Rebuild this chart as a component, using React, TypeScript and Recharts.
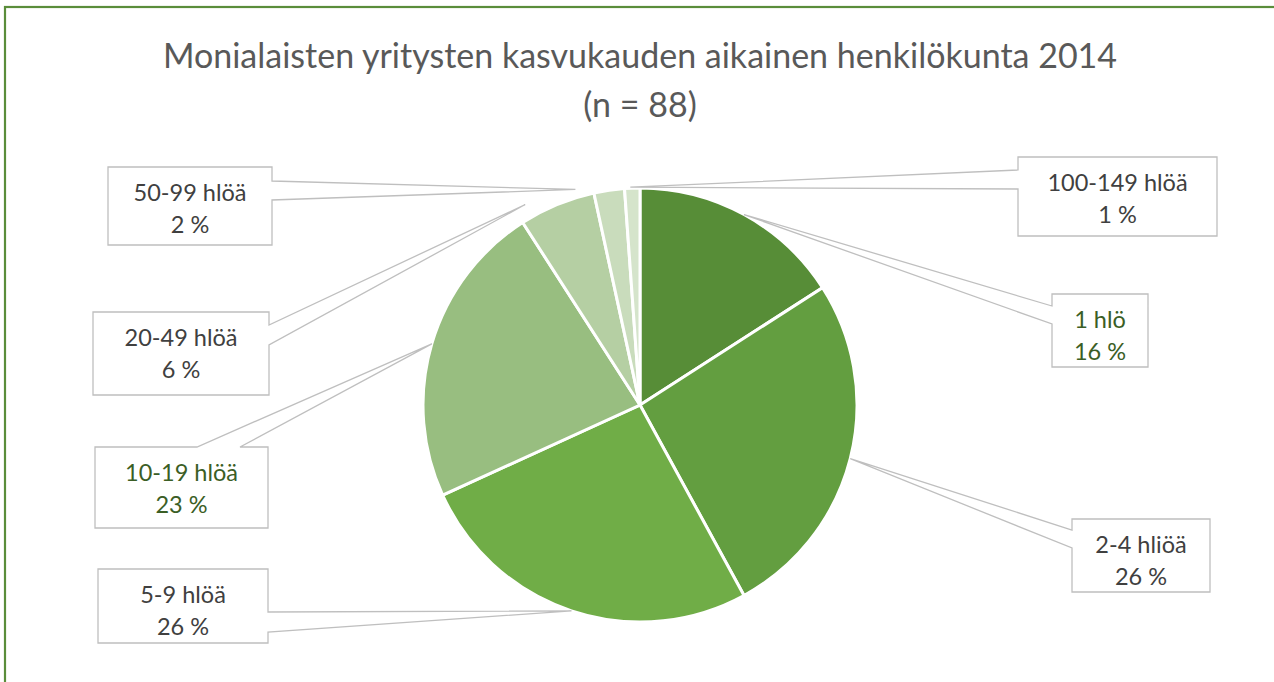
import React from "react";
import { PieChart, Pie, Cell } from "recharts";

// company staff size groups (n = 88)
const categories = ["1 hlö", "2-4 hliöä", "5-9 hlöä", "10-19 hlöä", "20-49 hlöä", "50-99 hlöä", "100-149 hlöä"];
const counts = [14, 23, 23, 20, 5, 2, 1];

const sliceColors = ["#578D37", "#639E40", "#70AD47", "#98BE80", "#B5CFA3", "#C9DCBC", "#D5E4CB"];
const labelColors = ["#3B5E25", "#404040", "#404040", "#3B5E25", "#404040", "#404040", "#404040"];

// callout boxes: position, side the pointer leaves from, and pointer tweaks
const callouts = [
  { x: 1052, y: 294, w: 96, h: 73, side: "left", a1: 306, a2: 324, dA: 0, dR: 0 },
  { x: 1072, y: 519, w: 138, h: 73, side: "left", a1: 530, a2: 548, dA: 0, dR: 0 },
  { x: 98, y: 569, w: 170, h: 74, side: "right", a1: 612, a2: 632, dA: 0, dR: 0 },
  { x: 95, y: 447, w: 173, h: 81, side: "top", a1: 197, a2: 240, dA: 0, dR: 0 },
  { x: 93, y: 312, w: 176, h: 83, side: "right", a1: 325, a2: 345, dA: 7.3, dR: 14 },
  { x: 108, y: 167, w: 164, h: 78, side: "right", a1: 181, a2: 200, dA: 8.5, dR: 8 },
  { x: 1018, y: 157, w: 199, h: 79, side: "left", a1: 170, a2: 189, dA: 0.5, dR: 1 },
];

const data = categories.map((name, i) => ({ name, value: counts[i] }));

const RAD = Math.PI / 180;
const FONT = "Lato, 'Open Sans', sans-serif";

function calloutPath(c: (typeof callouts)[number], ax: number, ay: number) {
  const { x, y, w, h, side, a1, a2 } = c;
  if (side === "right") {
    return `M${x},${y} H${x + w} V${a1} L${ax},${ay} L${x + w},${a2} V${y + h} H${x} Z`;
  }
  if (side === "left") {
    return `M${x},${y} H${x + w} V${y + h} H${x} V${a2} L${ax},${ay} L${x},${a1} Z`;
  }
  return `M${x},${y} H${a1} L${ax},${ay} L${a2},${y} H${x + w} V${y + h} H${x} Z`;
}

const renderLabel = (props: any) => {
  const { cx, cy, midAngle, outerRadius, index, percent } = props;
  const c = callouts[index];
  const ang = (midAngle + c.dA) * RAD;
  const r = outerRadius + c.dR;
  const ax = cx + r * Math.cos(-ang);
  const ay = cy + r * Math.sin(-ang);
  const tx = c.x + c.w / 2;
  return (
    <g key={`lbl-${index}`}>
      <path d={calloutPath(c, ax, ay)} fill="#FFFFFF" stroke="#BFBFBF" strokeWidth={1.3} />
      <text x={tx} y={c.y + 25} textAnchor="middle" dominantBaseline="central" fill={labelColors[index]} fontSize={23.5} fontFamily={FONT}>
        {categories[index]}
      </text>
      <text x={tx} y={c.y + 57} textAnchor="middle" dominantBaseline="central" fill={labelColors[index]} fontSize={23.5} fontFamily={FONT}>
        {`${Math.round(percent * 100)} %`}
      </text>
    </g>
  );
};

export default function App() {
  return (
    <div style={{ position: "absolute", left: 0, top: 0, width: 1274, height: 682, background: "#FFFFFF" }}>
      <PieChart width={1274} height={682} margin={{ top: 0, right: 0, bottom: 0, left: 0 }}>
        <rect x={5} y={7} width={1290} height={700} fill="none" stroke="#5A8D3A" strokeWidth={2.2} />
        <text x={640} y={54} textAnchor="middle" dominantBaseline="central" fill="#595959" fontSize={34} fontFamily={FONT}>
          Monialaisten yritysten kasvukauden aikainen henkilökunta 2014
        </text>
        <text x={640} y={103} textAnchor="middle" dominantBaseline="central" fill="#595959" fontSize={34} fontFamily={FONT}>
          (n = 88)
        </text>
        <Pie
          data={data}
          dataKey="value"
          nameKey="name"
          cx={640}
          cy={405}
          outerRadius={217}
          startAngle={90}
          endAngle={-270}
          stroke="#FFFFFF"
          strokeWidth={3}
          label={renderLabel}
          labelLine={false}
          isAnimationActive={false}
        >
          {data.map((entry, index) => (
            <Cell key={`cell-${index}`} fill={sliceColors[index]} />
          ))}
        </Pie>
      </PieChart>
    </div>
  );
}
